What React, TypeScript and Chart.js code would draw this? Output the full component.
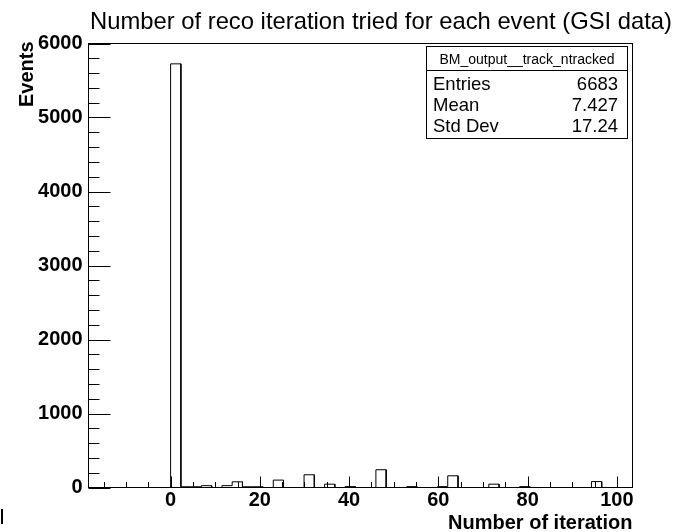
import React, { useEffect, useRef } from "react";
import { Chart, registerables } from "chart.js";

Chart.register(...registerables);

// ---- data ----
const titleText = "Number of reco iteration tried for each event (GSI data)";
const xAxisTitle = "Number of iteration";
const yAxisTitle = "Events";
const histName = "BM_output__track_ntracked";
const statLabels = ["Entries", "Mean", "Std Dev"];
const statValues = ["6683", "7.427", "17.24"];

const xMin = -18.4;
const xMax = 103.5;
const binWidth = 2.3;
// 53 bins, first bin starts at xMin
const binCounts = [
  0, 0, 0, 0, 0, 0, 0, 0,
  5725, 10, 10, 25, 0, 25, 77, 10, 10, 0,
  100, 0, 0, 172, 0, 45, 0, 12, 0, 0,
  240, 0, 0, 12, 0, 0, 12, 158, 0, 0,
  0, 45, 0, 0, 12, 0, 0, 0, 0, 0,
  0, 80, 0, 0, 0,
];

const xTickValues = [0, 20, 40, 60, 80, 100];
const yTickValues = [0, 1000, 2000, 3000, 4000, 5000, 6000];
const yMin = 0;
const yMax = 6000;
const xMinorStep = 5;
const yMinorStep = 200;

const FONT = '"Liberation Sans", Arial, Helvetica, sans-serif';

const decorPlugin = {
  id: "decor",
  afterDraw(chart: any) {
    const { ctx, chartArea: a, scales } = chart;
    const xs = scales.x;
    const ys = scales.y;
    ctx.save();
    ctx.strokeStyle = "#000";
    ctx.fillStyle = "#000";
    ctx.lineWidth = 1;

    // frame
    ctx.strokeRect(a.left, a.top, a.right - a.left, a.bottom - a.top);

    // x ticks (inward)
    ctx.beginPath();
    for (let v = Math.ceil(xMin / xMinorStep) * xMinorStep; v <= xMax; v += xMinorStep) {
      const px = Math.round(xs.getPixelForValue(v)) + 0.5;
      const len = v % 20 === 0 ? 11 : 5.5;
      ctx.moveTo(px, a.bottom);
      ctx.lineTo(px, a.bottom - len);
    }
    // y ticks (inward)
    for (let v = yMin; v <= yMax; v += yMinorStep) {
      const py = Math.round(ys.getPixelForValue(v)) + 0.5;
      const len = v % 1000 === 0 ? 22 : 11;
      ctx.moveTo(a.left, py);
      ctx.lineTo(a.left + len, py);
    }
    ctx.stroke();

    // title
    ctx.font = `23.8px ${FONT}`;
    ctx.textAlign = "left";
    ctx.textBaseline = "alphabetic";
    ctx.fillText(titleText, 90, 29);

    // x axis title
    ctx.font = `bold 20px ${FONT}`;
    ctx.textAlign = "right";
    ctx.fillText(xAxisTitle, a.right, 529);

    // y axis title
    ctx.save();
    ctx.translate(33, a.top - 2);
    ctx.rotate(-Math.PI / 2);
    ctx.textAlign = "right";
    ctx.fillText(yAxisTitle, 0, 0);
    ctx.restore();

    // stats box
    const bx = 426.5, by = 46.5, bw = 201, bh = 92;
    ctx.fillStyle = "#fff";
    ctx.fillRect(bx, by, bw, bh);
    ctx.fillStyle = "#000";
    ctx.strokeRect(bx, by, bw, bh);
    ctx.beginPath();
    ctx.moveTo(bx, 70.5);
    ctx.lineTo(bx + bw, 70.5);
    ctx.stroke();
    ctx.font = `14px ${FONT}`;
    ctx.textAlign = "center";
    ctx.fillText(histName, bx + bw / 2, 64);
    ctx.font = `18.5px ${FONT}`;
    const rowY = [90, 111, 132];
    statLabels.forEach((lab, i) => {
      ctx.textAlign = "left";
      ctx.fillText(lab, 433, rowY[i]);
      ctx.textAlign = "right";
      ctx.fillText(statValues[i], 618, rowY[i]);
    });

    // small mark at lower-left corner
    ctx.fillRect(1, 509, 2, 15);
    ctx.restore();
  },
};

export default function App() {
  const ref = useRef<HTMLCanvasElement>(null);
  useEffect(() => {
    const pts: { x: number; y: number }[] = [];
    binCounts.forEach((c, i) => {
      const lo = xMin + i * binWidth;
      pts.push({ x: lo, y: c });
      pts.push({ x: lo + binWidth, y: c });
    });
    const chart = new Chart(ref.current!, {
      type: "line",
      data: {
        datasets: [
          {
            data: pts,
            borderColor: "#000",
            borderWidth: 1,
            pointRadius: 0,
            fill: false,
            tension: 0,
          },
        ],
      },
      options: {
        responsive: false,
        animation: false,
        devicePixelRatio: 1,
        layout: { padding: { top: 43.5, right: 42.5, left: 0, bottom: 0 } },
        plugins: {
          legend: { display: false },
          title: { display: false },
          tooltip: { enabled: false },
        },
        scales: {
          x: {
            type: "linear",
            min: xMin,
            max: xMax,
            grid: { display: false, drawTicks: false, tickLength: 0 },
            border: { display: false },
            afterBuildTicks: (s: any) => {
              s.ticks = xTickValues.map((value) => ({ value }));
            },
            afterFit: (s: any) => {
              s.height = 44.5;
            },
            ticks: {
              autoSkip: false,
              maxRotation: 0,
              padding: 1,
              color: "#000",
              font: { family: FONT, size: 20, weight: "bold" },
              callback: (v: any) => String(v),
            },
          },
          y: {
            type: "linear",
            min: yMin,
            max: yMax,
            grid: { display: false, drawTicks: false, tickLength: 0 },
            border: { display: false },
            afterBuildTicks: (s: any) => {
              s.ticks = yTickValues.map((value) => ({ value }));
            },
            afterFit: (s: any) => {
              s.width = 88.5;
            },
            ticks: {
              padding: 6,
              color: "#000",
              font: { family: FONT, size: 20, weight: "bold" },
              callback: (v: any) => String(v),
            },
          },
        },
      },
      plugins: [decorPlugin],
    } as any);
    return () => chart.destroy();
  }, []);
  return (
    <div style={{ position: "absolute", left: 0, top: 0, width: 675, height: 532, background: "#fff" }}>
      <canvas ref={ref} width={675} height={532} style={{ display: "block" }} />
    </div>
  );
}
